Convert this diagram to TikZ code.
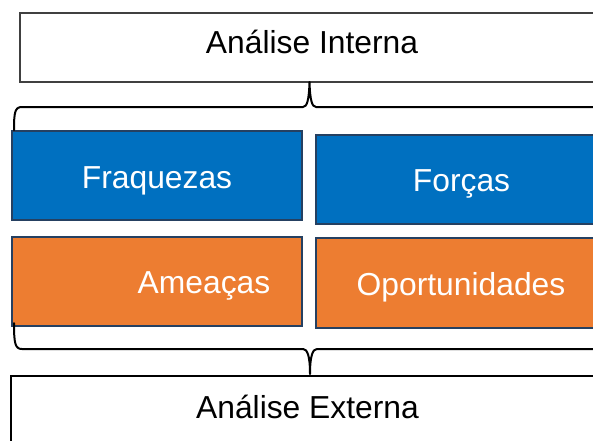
\documentclass[tikz,border=0pt]{standalone}
\usepackage{fontspec}
\setmainfont{Liberation Sans}
\definecolor{boxblue}{HTML}{0070C0}
\definecolor{boxorange}{HTML}{ED7D31}
\definecolor{boxline}{HTML}{254061}
\definecolor{greyline}{HTML}{404040}
\tikzset{
  swot/.style={rectangle, draw=boxline, line width=1.8pt, inner sep=0pt, outer sep=0pt},
  bluebox/.style={swot, fill=boxblue},
  orangebox/.style={swot, fill=boxorange},
  panel/.style={rectangle, fill=white, inner sep=0pt, outer sep=0pt},
  lbl/.style={anchor=base, inner sep=0pt, font=\fontsize{31.8}{36}\selectfont},
  wlbl/.style={lbl, text=white},
  bracepath/.style={draw=black, line width=2pt, line cap=round, line join=round}
}
\begin{document}
\begin{tikzpicture}[x=1pt,y=-1pt]
\useasboundingbox (0,0) rectangle (593,440);
\clip (0,0) rectangle (593,440);
\fill[white] (0,0) rectangle (593,440);
% top and bottom panels
\node[panel, draw=greyline, line width=1.5pt, minimum width=580pt, minimum height=69pt] (intern) at (310,47.5) {};
\node[panel, draw=black, line width=1.2pt, minimum width=598pt, minimum height=130pt] (extern) at (310,441) {};
\node[lbl] (interntxt) at (312,53) {Análise Interna};
\node[lbl] (externtxt) at (307.5,418) {Análise Externa};
% SWOT boxes
\node[bluebox, minimum width=290pt, minimum height=89pt] (fraq) at (157,175.5) {};
\node[bluebox, minimum width=290pt, minimum height=89pt] (forc) at (461,179.5) {};
\node[orangebox, minimum width=290pt, minimum height=89pt] (amea) at (157,281.5) {};
\node[orangebox, minimum width=290pt, minimum height=90pt] (oport) at (461,283) {};
\node[wlbl] (fraqtxt) at (157,188) {Fraquezas};
\node[wlbl] (forctxt) at (461.5,191.5) {Forças};
\node[wlbl] (ameatxt) at (204,293) {Ameaças};
\node[wlbl] (oporttxt) at (461,295.5) {Oportunidades};
% braces
\coordinate (topcusp) at (309.5,82);
\coordinate (botcusp) at (310,374);
\path[bracepath] (14,130) .. controls (14,112) and (15,107) .. (22,107) -- (303,107)
  .. controls (307,107) and (309,100) .. (topcusp)
  .. controls (310,100) and (312,107) .. (316,107) -- (598,107)
  .. controls (604,107) and (605,112) .. (605,130);
\path[bracepath] (14,323) .. controls (14,343) and (15,349) .. (22,349) -- (303,349)
  .. controls (307,349) and (310,355) .. (botcusp)
  .. controls (310,355) and (313,349) .. (317,349) -- (598,349)
  .. controls (604,349) and (605,343) .. (605,323);
\end{tikzpicture}
\end{document}
